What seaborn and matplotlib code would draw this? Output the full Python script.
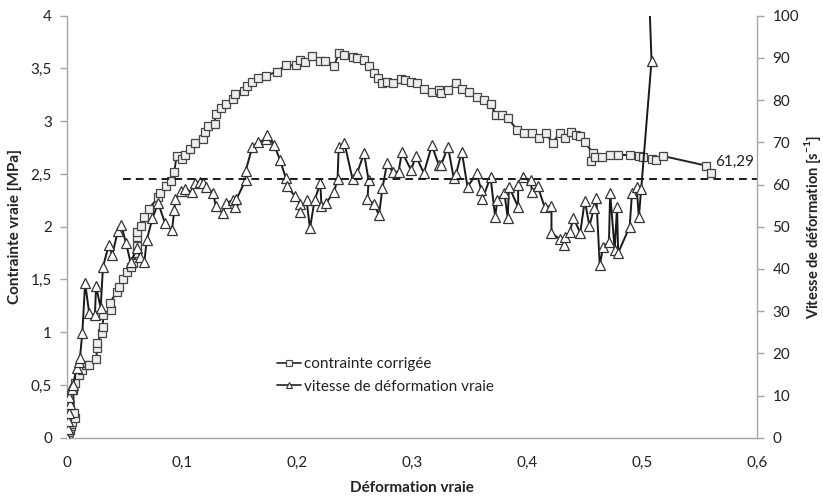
import numpy as np
import pandas as pd
import matplotlib
matplotlib.use("Agg")
import matplotlib.pyplot as plt
import seaborn as sns
from matplotlib.ticker import FuncFormatter, MultipleLocator
from matplotlib.lines import Line2D

# ---------------- data ----------------
stress_x = [0.0, 0.0005, 0.001, 0.0015, 0.002, 0.0025, 0.003, 0.003, 0.004, 0.007, 0.006,
            0.005, 0.007, 0.010, 0.013, 0.016, 0.019, 0.025, 0.026, 0.026, 0.030, 0.031, 0.031,
            0.038, 0.037, 0.043, 0.045, 0.048, 0.052, 0.055, 0.057, 0.061, 0.061, 0.061, 0.061,
            0.064, 0.067, 0.071, 0.079, 0.081, 0.086, 0.090, 0.093, 0.095, 0.100, 0.102, 0.107,
            0.111, 0.118, 0.120, 0.122, 0.128, 0.129, 0.134, 0.138, 0.144, 0.146, 0.154, 0.156,
            0.161, 0.166, 0.173, 0.182, 0.190, 0.199, 0.202, 0.207, 0.213, 0.220, 0.224, 0.232,
            0.236, 0.241, 0.248, 0.252, 0.258, 0.262, 0.267, 0.270, 0.274, 0.278, 0.283, 0.290,
            0.294, 0.299, 0.304, 0.310, 0.317, 0.323, 0.325, 0.331, 0.338, 0.343, 0.349, 0.356,
            0.362, 0.368, 0.373, 0.378, 0.383, 0.391, 0.397, 0.404, 0.410, 0.416, 0.422, 0.428,
            0.433, 0.438, 0.442, 0.446, 0.450, 0.457, 0.455, 0.459, 0.465, 0.472, 0.479, 0.489,
            0.497, 0.501, 0.508, 0.512, 0.518, 0.555, 0.560]
stress_y = [0.0, 0.01, 0.03, 0.05, 0.07, 0.09, 0.11, 0.13, 0.15, 0.19, 0.23,
            0.45, 0.52, 0.59, 0.64, 0.69, 0.69, 0.75, 0.85, 0.90, 0.99, 1.05, 1.16,
            1.21, 1.28, 1.38, 1.43, 1.50, 1.57, 1.62, 1.66, 1.75, 1.82, 1.90, 1.95,
            2.01, 2.09, 2.17, 2.28, 2.32, 2.39, 2.43, 2.52, 2.67, 2.64, 2.68, 2.74,
            2.79, 2.83, 2.90, 2.95, 2.97, 3.07, 3.13, 3.16, 3.21, 3.26, 3.29, 3.33,
            3.37, 3.41, 3.43, 3.47, 3.53, 3.53, 3.58, 3.56, 3.62, 3.57, 3.57, 3.52,
            3.65, 3.63, 3.61, 3.60, 3.58, 3.52, 3.46, 3.41, 3.36, 3.37, 3.36, 3.40,
            3.39, 3.37, 3.36, 3.31, 3.28, 3.30, 3.27, 3.30, 3.36, 3.31, 3.28, 3.23,
            3.20, 3.16, 3.06, 3.06, 3.03, 2.92, 2.89, 2.89, 2.84, 2.89, 2.79, 2.89,
            2.84, 2.90, 2.87, 2.86, 2.80, 2.70, 2.62, 2.66, 2.66, 2.68, 2.68, 2.68,
            2.67, 2.66, 2.64, 2.63, 2.67, 2.58, 2.51]

rate_x = [0.0, 0.0005, 0.001, 0.0015, 0.002, 0.0015, 0.003, 0.004, 0.005, 0.008, 0.010,
          0.011, 0.013, 0.0155, 0.019, 0.024, 0.025, 0.029, 0.031, 0.036, 0.039, 0.044,
          0.047, 0.051, 0.055, 0.061, 0.063, 0.067, 0.069, 0.074, 0.079, 0.085, 0.091,
          0.093, 0.094, 0.099, 0.102, 0.108, 0.111, 0.115, 0.118, 0.121, 0.127, 0.129,
          0.135, 0.138, 0.144, 0.146, 0.147, 0.155, 0.155, 0.161, 0.166, 0.173, 0.174,
          0.180, 0.185, 0.190, 0.191, 0.198, 0.202, 0.202, 0.208, 0.211, 0.215, 0.220,
          0.221, 0.225, 0.232, 0.235, 0.236, 0.241, 0.248, 0.252, 0.258, 0.262, 0.261,
          0.267, 0.271, 0.274, 0.278, 0.283, 0.288, 0.291, 0.299, 0.303, 0.310, 0.317,
          0.323, 0.325, 0.331, 0.336, 0.338, 0.343, 0.348, 0.356, 0.360, 0.361, 0.368,
          0.372, 0.374, 0.380, 0.383, 0.384, 0.392, 0.392, 0.396, 0.403, 0.404, 0.409,
          0.415, 0.421, 0.421, 0.428, 0.432, 0.433, 0.437, 0.440, 0.446, 0.450, 0.454,
          0.458, 0.460, 0.463, 0.466, 0.471, 0.472, 0.476, 0.478, 0.479, 0.489, 0.491,
          0.495, 0.497, 0.499, 0.508, 0.505]
rate_y = [0.0, 2.0, 4.0, 5.8, 8.0, 9.7, 11.8, 11.5, 12.5, 16.5, 18.0,
          19.0, 24.7, 36.7, 29.5, 29.0, 35.9, 30.7, 40.5, 45.6, 43.3, 49.0,
          50.4, 46.1, 41.6, 45.0, 42.8, 41.6, 46.8, 52.0, 55.6, 50.8, 49.2,
          53.9, 56.5, 58.5, 58.9, 58.3, 60.4, 60.7, 60.3, 59.4, 57.9, 54.9,
          53.2, 55.6, 56.3, 54.6, 56.5, 61.0, 63.2, 69.0, 70.1, 70.7, 71.7,
          69.3, 65.8, 61.5, 59.6, 57.2, 55.5, 53.4, 56.3, 49.6, 56.3, 60.3,
          55.0, 55.6, 58.3, 61.3, 69.0, 69.8, 61.3, 62.7, 67.4, 61.0, 56.5,
          55.3, 52.7, 59.1, 65.0, 63.0, 63.0, 67.7, 63.4, 66.8, 62.7, 69.3,
          64.6, 64.6, 69.0, 61.5, 62.5, 67.8, 59.4, 62.7, 58.6, 56.5, 61.8,
          52.4, 56.3, 58.0, 52.1, 59.5, 54.7, 59.9, 61.8, 61.0, 58.3, 59.6,
          54.7, 54.9, 48.6, 47.1, 45.7, 47.6, 48.8, 52.1, 48.6, 56.2, 50.2,
          54.4, 56.8, 40.9, 45.3, 46.4, 58.0, 44.5, 54.7, 43.8, 50.0, 58.0,
          59.5, 52.3, 58.9, 89.3, 112.0]

mean_rate = 61.29
x_ticks = [0.0, 0.1, 0.2, 0.3, 0.4, 0.5, 0.6]
label_stress = "contrainte corrigée"
label_rate = "vitesse de déformation vraie"

stress_df = pd.DataFrame({"x": stress_x, "y": stress_y, "s": label_stress})
rate_df = pd.DataFrame({"x": rate_x, "y": rate_y, "s": label_rate})

# ---------------- style ----------------
sns.set_style("white")
plt.rcParams["font.family"] = ["Lato", "DejaVu Sans"]
plt.rcParams["mathtext.fontset"] = "custom"
plt.rcParams["mathtext.rm"] = "Lato"
plt.rcParams["mathtext.bf"] = "Lato:bold"

fig = plt.figure(figsize=(8.23, 4.96), dpi=100)
ax = fig.add_axes([0.0818, 0.1175, 0.8384, 0.8508])
ax2 = ax.twinx()

spine_c = "#a6a6a6"
sns.lineplot(data=stress_df, x="x", y="y", sort=False, estimator=None, ax=ax,
             color="#222222", lw=1.4, marker="s", markersize=5.5,
             markerfacecolor="#eeeeee", markeredgecolor="#444444",
             markeredgewidth=0.9, legend=False)
sns.lineplot(data=rate_df, x="x", y="y", sort=False, estimator=None, ax=ax2,
             color="#1a1a1a", lw=1.4, marker="^", markersize=7,
             markerfacecolor="white", markeredgecolor="#333333",
             markeredgewidth=0.9, legend=False)

ax2.plot([0.048, 0.6], [mean_rate, mean_rate], ls=(0, (4, 2.6)), color="#1a1a1a", lw=1.4)
ax2.text(0.597, mean_rate + 4.0, "61,29", ha="right", va="center", fontsize=11, color="#222222")

def comma(v, pos):
    s = f"{v:g}"
    return s.replace(".", ",")

ax.set_xlim(0, 0.6)
ax.set_ylim(0, 4)
ax2.set_ylim(0, 100)
ax.set_xticks(x_ticks)
ax.yaxis.set_major_locator(MultipleLocator(0.5))
ax2.yaxis.set_major_locator(MultipleLocator(10))
ax.xaxis.set_major_formatter(FuncFormatter(comma))
ax.yaxis.set_major_formatter(FuncFormatter(comma))
ax2.yaxis.set_major_formatter(FuncFormatter(comma))

for a in (ax, ax2):
    a.spines["top"].set_visible(False)
    for s in ("left", "right", "bottom"):
        a.spines[s].set_color(spine_c)
        a.spines[s].set_linewidth(1.0)
ax2.spines["left"].set_visible(False)
ax2.spines["bottom"].set_visible(False)
ax.spines["right"].set_visible(False)

ax.tick_params(axis="both", which="major", direction="out", length=5, width=1.0,
               color=spine_c, labelsize=11, labelcolor="#222222", pad=6)
ax.tick_params(axis="x", pad=8)
ax2.tick_params(axis="y", direction="out", length=5, width=1.0, color=spine_c,
                labelsize=11, labelcolor="#222222", pad=6)

ax.set_xlabel("Déformation vraie", fontsize=11, fontweight="bold", color="#222222", labelpad=8)
ax.set_ylabel("Contrainte vraie [MPa]", fontsize=11, fontweight="bold", color="#222222", labelpad=6)
ax2.set_ylabel(r"Vitesse de déformation [s$^{\mathbf{-1}}$]", fontsize=10.5, fontweight="bold",
               color="#222222", labelpad=2)

handles = [
    Line2D([], [], color="#222222", lw=1.2, marker="s", markersize=4,
           markerfacecolor="#eeeeee", markeredgecolor="#444444", markeredgewidth=0.8),
    Line2D([], [], color="#222222", lw=1.2, marker="^", markersize=5,
           markerfacecolor="white", markeredgecolor="#333333", markeredgewidth=0.8),
]
leg = ax.legend(handles, [label_stress, label_rate], loc="upper left",
                bbox_to_anchor=(0.295, 0.205), frameon=False, fontsize=11,
                handlelength=1.6, handletextpad=0.15, labelspacing=0.55,
                borderaxespad=0)
for t in leg.get_texts():
    t.set_color("#222222")

fig.savefig("out.png", dpi=100)
